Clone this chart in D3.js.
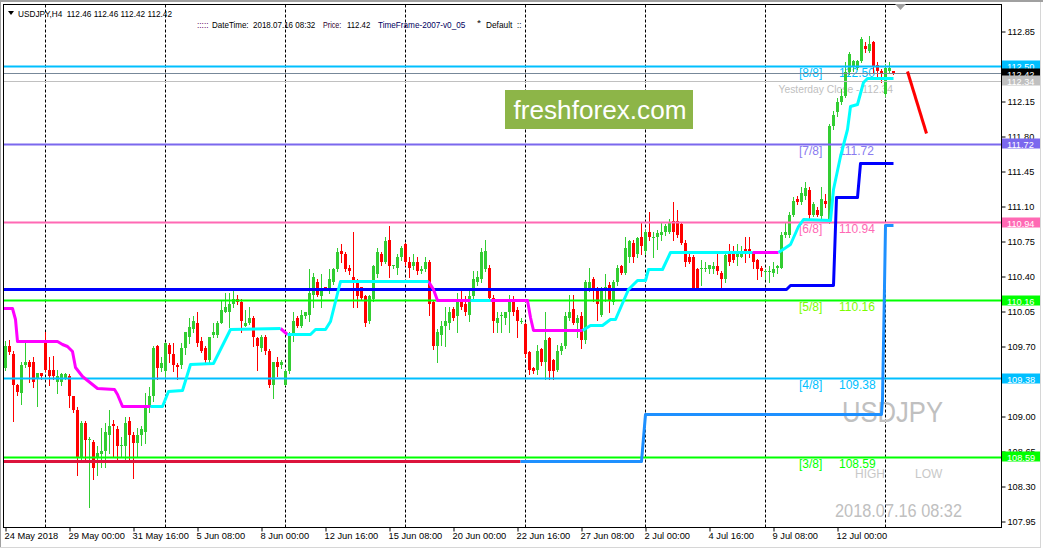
<!DOCTYPE html>
<html><head><meta charset="utf-8">
<script src="https://cdn.jsdelivr.net/npm/d3@7"></script>
<style>
body{margin:0;background:#fff;}
svg{display:block;font-family:"Liberation Sans",Arial,sans-serif;}
</style></head>
<body><svg id="c" width="1043" height="550"></svg>
<script>
// ---------- DATA ----------
const symbolTitle = "USDJPY,H4\u00a0\u00a0112.46 112.46 112.42 112.42";
const openP = [109.49,109.70,109.63,109.32,109.24,109.52,109.55,109.55,109.37,109.43,109.77,109.47,109.47,109.35,109.34,109.39,109.40,109.20,109.07,108.60,108.93,108.76,108.75,108.60,108.62,108.65,108.82,108.92,108.88,108.70,108.71,108.95,108.81,108.73,108.81,108.85,109.10,109.21,109.71,109.49,109.45,109.72,109.62,109.52,109.51,109.69,109.79,109.87,109.94,109.75,109.68,109.57,109.82,109.82,109.94,110.05,110.04,110.12,110.17,110.14,109.90,109.94,109.98,109.78,109.69,109.80,109.65,109.31,109.55,109.51,109.32,109.45,109.82,109.98,109.90,110.00,110.02,110.22,110.35,110.20,110.29,110.25,110.35,110.47,110.65,110.63,110.49,110.39,110.34,110.29,110.20,109.95,110.17,110.42,110.62,110.55,110.77,110.50,110.49,110.59,110.72,110.55,110.50,110.54,110.46,110.47,110.54,110.14,109.70,109.82,109.90,109.94,110.08,110.00,110.17,110.12,110.02,110.20,110.35,110.37,110.47,110.49,110.19,109.94,110.00,109.99,110.05,110.15,110.07,109.96,109.92,109.64,109.49,109.47,109.67,109.54,109.78,109.56,109.47,109.65,109.70,109.99,110.08,109.93,110.00,109.77,110.27,110.37,110.25,110.02,110.27,110.32,110.14,110.34,110.50,110.44,110.60,110.74,110.62,110.79,110.65,110.85,110.79,110.80,110.82,110.84,110.85,110.96,110.95,110.92,110.74,110.60,110.59,110.47,110.47,110.47,110.47,110.47,110.50,110.44,110.37,110.62,110.62,110.60,110.60,110.67,110.67,110.64,110.56,110.49,110.45,110.45,110.44,110.48,110.49,110.82,110.82,111.02,111.17,111.14,111.20,111.27,111.02,111.07,111.00,111.16,110.95,111.90,112.04,112.14,112.20,112.44,112.50,112.49,112.55,112.70,112.65,112.74,112.51,112.45,112.22,112.46,112.46];
const highP = [109.75,109.77,109.65,109.33,109.54,109.74,109.56,109.60,109.44,109.44,109.84,109.60,109.61,109.47,109.44,109.44,109.42,109.21,109.10,108.95,108.95,108.80,108.76,108.70,108.89,108.94,109.07,108.97,108.90,108.80,109.00,109.00,108.84,108.89,108.90,109.24,109.30,109.70,109.72,109.59,109.74,109.73,109.74,109.53,109.74,109.85,109.99,110.00,110.04,109.79,109.70,109.80,109.94,109.95,110.15,110.24,110.24,110.25,110.22,110.17,110.07,110.09,110.00,109.79,109.82,109.82,109.67,109.55,109.60,109.57,109.47,109.84,110.05,110.00,110.07,110.05,110.47,110.44,110.37,110.42,110.30,110.47,110.49,110.69,110.72,110.64,110.51,110.85,110.37,110.30,110.22,110.22,110.52,110.69,110.64,110.80,110.90,110.52,110.62,110.70,110.74,110.60,110.62,110.60,110.50,110.60,110.56,110.15,109.87,109.95,110.10,110.10,110.10,110.24,110.25,110.20,110.25,110.45,110.45,110.69,110.77,110.52,110.22,110.04,110.05,110.05,110.22,110.20,110.09,109.99,109.94,109.65,109.50,109.72,109.68,110.04,109.80,109.58,109.72,109.73,110.05,110.22,110.22,110.02,110.04,110.36,110.49,110.39,110.30,110.29,110.42,110.34,110.36,110.51,110.52,110.79,110.77,110.77,110.79,110.94,110.86,111.05,110.84,110.86,110.94,110.92,110.97,111.14,111.07,110.94,110.76,110.62,110.61,110.49,110.56,110.55,110.52,110.55,110.62,110.45,110.62,110.72,110.70,110.72,110.70,110.79,110.79,110.65,110.58,110.50,110.47,110.50,110.54,110.51,110.85,110.94,111.04,111.19,111.20,111.30,111.34,111.29,111.14,111.09,111.30,111.22,111.92,112.05,112.18,112.27,112.54,112.64,112.57,112.57,112.79,112.74,112.80,112.75,112.54,112.47,112.52,112.54,112.46];
const lowP = [109.47,109.62,108.95,109.22,109.12,109.50,109.34,109.30,109.11,109.37,109.45,109.32,109.37,109.24,109.32,109.37,109.10,109.05,108.42,108.57,108.54,108.10,108.37,108.42,108.50,108.50,108.64,108.60,108.54,108.59,108.55,108.55,108.39,108.60,108.72,108.74,109.04,109.15,109.37,109.45,109.40,109.54,109.45,109.37,109.49,109.62,109.74,109.84,109.70,109.64,109.55,109.55,109.80,109.80,109.94,110.05,109.89,110.10,110.12,109.84,109.90,109.92,109.70,109.47,109.65,109.63,109.30,109.19,109.40,109.49,109.31,109.44,109.75,109.89,109.89,109.99,109.95,110.10,110.20,110.10,110.27,110.24,110.33,110.45,110.55,110.45,110.42,110.09,110.09,110.17,109.90,109.93,110.15,110.39,110.52,110.53,110.39,110.48,110.42,110.57,110.52,110.39,110.47,110.42,110.43,110.45,110.02,109.67,109.55,109.72,109.70,109.87,109.97,109.85,110.08,110.02,109.95,110.18,110.32,110.35,110.45,110.15,109.84,109.84,109.84,109.92,109.85,110.02,109.79,109.94,109.60,109.42,109.44,109.42,109.52,109.37,109.37,109.37,109.45,109.63,109.68,109.97,109.92,109.80,109.69,109.74,110.25,110.15,109.97,110.00,110.15,110.05,110.12,110.32,110.42,110.42,110.55,110.55,110.60,110.62,110.63,110.77,110.60,110.67,110.77,110.82,110.83,110.77,110.79,110.72,110.50,110.53,110.28,110.28,110.32,110.45,110.44,110.44,110.42,110.28,110.35,110.52,110.54,110.52,110.59,110.55,110.60,110.49,110.37,110.40,110.37,110.35,110.40,110.44,110.48,110.80,110.80,111.00,111.12,111.13,111.17,110.99,111.00,111.00,110.99,111.10,110.94,111.87,112.00,112.12,112.19,112.42,112.45,112.47,112.54,112.64,112.64,112.44,112.40,112.34,112.20,112.44,112.42];
const closeP = [109.70,109.64,109.32,109.25,109.52,109.54,109.50,109.35,109.43,109.40,109.47,109.40,109.40,109.40,109.42,109.42,109.20,109.07,108.60,108.94,108.77,108.78,108.49,108.64,108.65,108.84,108.91,108.90,108.71,108.72,108.94,108.81,108.73,108.82,108.87,109.09,109.21,109.69,109.49,109.53,109.73,109.62,109.52,109.50,109.69,109.84,109.89,109.95,109.74,109.65,109.57,109.79,109.84,109.94,110.06,110.09,110.12,110.17,110.14,109.95,109.94,109.99,109.79,109.70,109.80,109.65,109.31,109.54,109.50,109.55,109.45,109.82,109.95,109.90,110.02,110.04,110.24,110.39,110.22,110.25,110.28,110.37,110.47,110.64,110.62,110.47,110.46,110.35,110.20,110.19,109.94,110.20,110.50,110.64,110.55,110.75,110.50,110.51,110.59,110.69,110.54,110.49,110.54,110.45,110.47,110.55,110.12,109.70,109.85,109.90,109.95,110.05,109.99,110.15,110.10,110.04,110.20,110.37,110.39,110.64,110.65,110.19,109.95,109.99,110.01,110.04,110.14,110.05,109.95,109.96,109.62,109.47,109.45,109.65,109.54,109.77,109.45,109.45,109.65,109.71,110.00,110.04,109.94,109.98,109.77,110.35,110.35,110.27,110.12,110.27,110.30,110.15,110.34,110.49,110.44,110.68,110.75,110.60,110.78,110.70,110.84,110.79,110.80,110.83,110.84,110.90,110.94,110.84,110.82,110.74,110.55,110.55,110.28,110.28,110.49,110.49,110.51,110.50,110.45,110.37,110.61,110.55,110.57,110.64,110.65,110.62,110.64,110.55,110.47,110.46,110.46,110.46,110.47,110.50,110.82,110.85,111.02,111.15,111.14,111.24,111.28,111.02,111.12,111.02,111.17,111.12,111.90,112.01,112.14,112.20,112.44,112.62,112.55,112.55,112.77,112.67,112.72,112.50,112.45,112.42,112.48,112.48,112.42];

const timeTickIdx = [0,16,32,48,64,80,96,112,128,144,160,176,192,208];
const timeTickLabels = ["24 May 2018","29 May 00:00","31 May 16:00","5 Jun 08:00","8 Jun 00:00","12 Jun 16:00","15 Jun 08:00","20 Jun 00:00","22 Jun 16:00","27 Jun 08:00","2 Jul 00:00","4 Jul 16:00","9 Jul 08:00","12 Jul 00:00"];
const weekStartIdx = [10,40,70,100,130,160,190,220];
const priceTicks = [107.95,108.30,108.65,109.00,109.35,109.70,110.05,110.40,110.75,111.10,111.45,111.80,112.15,112.50,112.85];
// tick labels fully covered by level tags in the original
const hiddenTickLabels = [109.35,112.50];

const murreyNames = ["[8/8]","[7/8]","[6/8]","[5/8]","[4/8]","[3/8]"];
const murreyLevels = [112.50,111.72,110.94,110.16,109.38,108.59];
const bidPrice = 112.42;
const yesterdayClose = 112.34;

// trailing indicator (bar index, price)
const trailDown = [
  [[-0.5,110.08],[1.75,110.08],[2.5,109.97],[3,109.75],[13,109.75],[14.25,109.72],[15.5,109.70],[16.75,109.65],[17.5,109.49],[19.25,109.40],[23,109.28],[27.25,109.27],[28,109.22],[29.25,109.10],[36.25,109.10]],
  [[68.75,109.88],[70.5,109.82]],
  [[105.75,110.35],[107,110.27],[108,110.16],[116.25,110.16]],
  [[121.25,110.16],[130.5,110.16],[131.25,109.99],[132,109.86],[144.25,109.86]],
  [[186.75,110.64],[193.25,110.64]]
];
const trailUp = [
  [[36.25,109.10],[39.25,109.10],[40.75,109.25],[44.25,109.26],[46.25,109.52],[52,109.53],[56.25,109.87],[68.75,109.88]],
  [[70.5,109.82],[76.25,109.82],[77.5,109.87],[80,109.87],[81.25,109.95],[83.75,110.35],[105.75,110.35]],
  [[116.25,110.16],[121.25,110.16]],
  [[144.25,109.86],[146.25,109.91],[149.25,109.91],[151.25,109.97],[152.5,109.97],[155.75,110.27],[158,110.36],[160,110.36],[160.75,110.47],[164.25,110.47],[166.25,110.64],[186.75,110.64]],
  [[193.25,110.64],[196.25,110.72],[198.25,110.90],[199.5,110.97],[206.25,110.96],[207,111.27],[208.75,111.60],[210.5,111.87],[211.25,112.10],[213,112.12],[214.5,112.34],[215.5,112.38],[222,112.38]]
];
const resistLine = [[-0.5,110.27],[195.25,110.27],[196.25,110.31],[207,110.31],[207.75,111.19],[213,111.19],[213.75,111.53],[222,111.53]];
const supportRed = [[-0.5,108.55],[128.75,108.55]];
const supportBlue = [[128.75,108.55],[159,108.55],[160,109.02],[219,109.02],[219.25,109.17],[219.5,109.73],[219.75,110.30],[220,110.91],[222,110.91]];
const forecastArrow = [[225.5,112.45],[230.25,111.83]];

// header pieces (text only)
const headerTexts = [":::::","DateTime:","2018.07.16 08:32","Price:","112.42","TimeFrame-2007-v0_05","*","Default","::"];

// ---------- STYLES / LAYOUT ----------
const bullColor = "#32CD32", bearColor = "#FF0000";
const murreyColors = ["#00BFFF","#7B68EE","#FF69B4","#00FF00","#00BFFF","#00FF00"];
const murreyTextColors = ["#00BFFF","#8A7BEF","#FF69B4","#7CFC00","#00BFFF","#00FF00"];
const headerX = [197,212,253,323,347,378,477,486,517];
const headerW = [11.5,36.6,62.3,18.3,23.3,87.3,4,26.3,4.3];
const headerC = ["#600060","#000","#000","#300030","#000","#000060","#000","#000","#000"];

// ---------- SCALES ----------
const svg = d3.select("#c");
const W = 1043, H = 550;
const L = 3.5, T = 4.5, R = 1001.5, B = 527.5;
const xS = d3.scaleLinear().domain([0,222]).range([5.5,893.5]);
const yS = d3.scaleLinear().domain([107.95,112.85]).range([521.5,31.5]);

// outer window frame
svg.append("rect").attr("x",0).attr("y",0).attr("width",W).attr("height",H).attr("fill","#fff");
svg.append("rect").attr("x",0).attr("y",0).attr("width",W).attr("height",2).attr("fill","#a0a0a0");
svg.append("line").attr("x1",0.5).attr("x2",0.5).attr("y1",0).attr("y2",548).attr("stroke","#a0a0a0");
svg.append("line").attr("x1",1040.5).attr("x2",1040.5).attr("y1",2).attr("y2",548).attr("stroke","#d6d6d6");
svg.append("line").attr("x1",0).attr("x2",1041).attr("y1",547.5).attr("y2",547.5).attr("stroke","#d6d6d6");

svg.append("defs").append("clipPath").attr("id","plot")
  .append("rect").attr("x",L).attr("y",T).attr("width",R-L).attr("height",B-T);
const plot = svg.append("g").attr("clip-path","url(#plot)");

// weekly separators
plot.selectAll("line.sep").data(weekStartIdx).enter().append("line")
  .attr("x1",d=>Math.round(xS(d))-0.5).attr("x2",d=>Math.round(xS(d))-0.5)
  .attr("y1",T).attr("y2",B).attr("stroke","#000").attr("stroke-dasharray","3,2");

// watermark box
const wm = plot.append("g");
wm.append("rect").attr("x",505).attr("y",90).attr("width",188).attr("height",39).attr("fill","#8DB548");
wm.append("text").attr("x",600).attr("y",119).attr("text-anchor","middle").attr("fill","#fff")
  .attr("font-size",26).attr("textLength",173).attr("lengthAdjust","spacingAndGlyphs").text("freshforex.com");

// background texts
plot.append("text").attr("x",893).attr("y",93).attr("text-anchor","end").attr("fill","#c0c0c0")
  .attr("font-size",10.3).text("Yesterday Close - " + yesterdayClose.toFixed(2));
murreyLevels.forEach((v,k)=>{
  plot.append("text").attr("x",799).attr("y",yS(v)+10).attr("fill",murreyTextColors[k]).attr("font-size",12).text(murreyNames[k]);
  plot.append("text").attr("x",839).attr("y",yS(v)+10).attr("fill",murreyTextColors[k]).attr("font-size",12).text(v.toFixed(2));
});
plot.append("text").attr("x",842).attr("y",422).attr("fill","#c0c0c0").attr("font-size",29)
  .attr("textLength",101).attr("lengthAdjust","spacingAndGlyphs").text("USDJPY");
plot.append("text").attr("x",855).attr("y",478).attr("fill","#c8c8c8").attr("font-size",12).text("HIGH");
plot.append("text").attr("x",915).attr("y",478).attr("fill","#c8c8c8").attr("font-size",12).text("LOW");
plot.append("text").attr("x",835).attr("y",517).attr("fill","#c0c0c0").attr("font-size",18)
  .attr("textLength",127).attr("lengthAdjust","spacingAndGlyphs").text("2018.07.16 08:32");

// candles
const bars = d3.range(openP.length).map(i=>({i,o:openP[i],h:highP[i],l:lowP[i],c:closeP[i]}));
const cg = plot.append("g");
bars.forEach(d=>{
  const col = d.c >= d.o ? bullColor : bearColor;
  const x = xS(d.i);
  const hi = Math.max(d.h,d.o,d.c), lo = Math.min(d.l,d.o,d.c);
  cg.append("line").attr("x1",x).attr("x2",x).attr("y1",Math.round(yS(hi))).attr("y2",Math.round(yS(lo))+1)
    .attr("stroke",col).attr("stroke-width",1);
  const yTop = Math.round(yS(Math.max(d.o,d.c))), yBot = Math.round(yS(Math.min(d.o,d.c)));
  cg.append("rect").attr("x",x-1.5).attr("y",yTop).attr("width",3).attr("height",Math.max(1,yBot-yTop))
    .attr("fill",col);
});

// horizontal levels
const hl = plot.append("g");
murreyLevels.forEach((v,k)=>{
  hl.append("line").attr("x1",L).attr("x2",R).attr("y1",yS(v)).attr("y2",yS(v))
    .attr("stroke",murreyColors[k]).attr("stroke-width",2);
});
hl.append("line").attr("x1",L).attr("x2",R).attr("y1",Math.round(yS(yesterdayClose))-0.5).attr("y2",Math.round(yS(yesterdayClose))-0.5)
  .attr("stroke","#c0c0c0").attr("stroke-width",1);
hl.append("line").attr("x1",L).attr("x2",R).attr("y1",Math.round(yS(bidPrice))-0.5).attr("y2",Math.round(yS(bidPrice))-0.5)
  .attr("stroke","#778899").attr("stroke-width",1);

// indicator lines
const line = d3.line().x(d=>xS(d[0])).y(d=>yS(d[1]));
const ig = plot.append("g").attr("fill","none").attr("stroke-linejoin","round");
ig.append("path").attr("d",line(resistLine)).attr("stroke","#0000FF").attr("stroke-width",3);
ig.append("path").attr("d",line(supportRed)).attr("stroke","#DC143C").attr("stroke-width",3);
ig.append("path").attr("d",line(supportBlue)).attr("stroke","#1E90FF").attr("stroke-width",3);
trailDown.forEach(s=>ig.append("path").attr("d",line(s)).attr("stroke","#FF00FF").attr("stroke-width",3));
trailUp.forEach(s=>ig.append("path").attr("d",line(s)).attr("stroke","#00FFFF").attr("stroke-width",3));
ig.append("path").attr("d",line(forecastArrow)).attr("stroke","#FF0000").attr("stroke-width",3);

// chart frame
svg.append("rect").attr("x",L).attr("y",T).attr("width",R-L).attr("height",B-T)
  .attr("fill","none").attr("stroke","#000");

// price axis
const fmt = d3.format(".2f");
const yAxis = d3.axisRight(yS).tickValues(priceTicks).tickSize(4).tickPadding(2)
  .tickFormat(d => hiddenTickLabels.some(h=>Math.abs(h-d)<1e-6) ? "" : fmt(d));
const ya = svg.append("g").attr("transform",`translate(${R},0)`).call(yAxis);
ya.select(".domain").remove();
ya.selectAll("text").attr("font-size",9.2).attr("font-family","Liberation Sans, Arial, sans-serif").attr("fill","#000");
ya.selectAll("line").attr("stroke","#000");

// time axis
const xAxis = d3.axisBottom(xS).tickValues(timeTickIdx).tickSize(4).tickFormat((d,k)=>timeTickLabels[k]);
const xa = svg.append("g").attr("transform",`translate(0,${B})`).call(xAxis);
xa.select(".domain").remove();
xa.selectAll("text").attr("font-size",9.3).attr("font-family","Liberation Sans, Arial, sans-serif")
  .attr("fill","#000").attr("text-anchor","start").attr("x",-1.5).attr("dy","0.71em").attr("y",5);
xa.selectAll("line").attr("stroke","#000");

// right-axis level tags
const tags = [
  {v:112.50,bg:"#00BFFF"},{v:bidPrice,bg:"#000000"},{v:yesterdayClose,bg:"#C0C0C0"},
  {v:111.72,bg:"#7B68EE"},{v:110.94,bg:"#FF69B4"},{v:110.16,bg:"#00FF00"},
  {v:109.38,bg:"#00BFFF"},{v:108.59,bg:"#00FF00"}];
const tg = svg.append("g");
tags.forEach((t,k)=>{
  const yy = Math.round(yS(t.v)) - (k===2 ? 1 : 0);
  tg.append("rect").attr("x",1002).attr("y",yy-5.5).attr("width",38).attr("height",10).attr("fill",t.bg);
  tg.append("text").attr("x",1007).attr("y",yy+3.5).attr("fill","#fff").attr("font-size",9.2).text(t.v.toFixed(2));
});

// header
svg.append("path").attr("d","M8,11 L14,11 L11,15 Z").attr("fill","#000");
svg.append("text").attr("x",18).attr("y",17).attr("font-size",9.6).attr("fill","#000")
  .attr("textLength",154).attr("lengthAdjust","spacingAndGlyphs").text(symbolTitle);
headerTexts.forEach((t,k)=>{
  svg.append("text").attr("x",headerX[k]).attr("y",t==="*"?26:28).attr("font-size",9.6).attr("fill",headerC[k])
    .attr("textLength",headerW[k]).attr("lengthAdjust","spacingAndGlyphs").text(t);
});

// chart-shift marker
svg.append("path").attr("d","M895,4 L906,4 L900.5,10 Z").attr("fill","#a0a0a0");
</script>
</body></html>
